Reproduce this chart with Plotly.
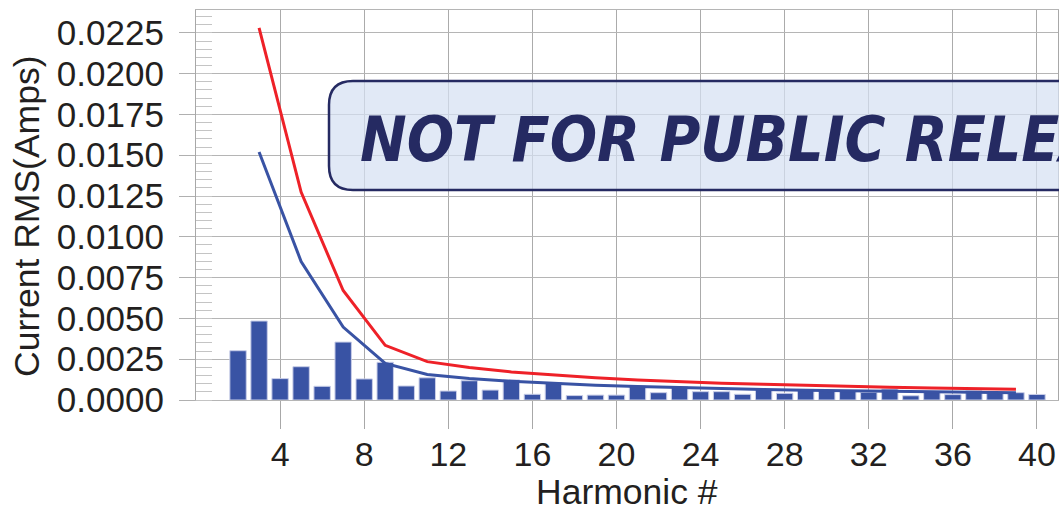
import plotly.graph_objects as go

# ---- data ----
harmonics = list(range(2, 41))
measured = [0.00302, 0.00484, 0.00131, 0.00204, 0.00084, 0.00355, 0.00129, 0.00231,
            0.00086, 0.00136, 0.00055, 0.00118, 0.00061, 0.00123, 0.00035, 0.00106,
            0.00027, 0.00030, 0.00030, 0.00086, 0.00045, 0.00082, 0.00051, 0.00051,
            0.00035, 0.00065, 0.00041, 0.00065, 0.00061, 0.00057, 0.00047, 0.00067,
            0.00026, 0.00051, 0.00033, 0.00056, 0.00045, 0.00045, 0.00034]

odd_harmonics = [3, 5, 7, 9, 11, 13, 15, 17, 19, 21, 23, 25, 27, 29, 31, 33, 35, 37, 39]
limit_red = [0.0228, 0.01274, 0.00671, 0.00335, 0.00235, 0.00199, 0.00172, 0.00152,
             0.00136, 0.00123, 0.00112, 0.00103, 0.00096, 0.00089, 0.00083, 0.00078,
             0.00074, 0.00070, 0.00066]
limit_blue = [0.0152, 0.00849, 0.00447, 0.00224, 0.00156, 0.00132, 0.00115, 0.00101,
              0.00091, 0.00082, 0.00075, 0.00069, 0.00064, 0.00059, 0.00056, 0.00052,
              0.00049, 0.00047, 0.00044]

x_ticks = [4, 8, 12, 16, 20, 24, 28, 32, 36, 40]
y_ticks = [0.0, 0.0025, 0.005, 0.0075, 0.01, 0.0125, 0.015, 0.0175, 0.02, 0.0225]
y_tick_text = ["0.0000", "0.0025", "0.0050", "0.0075", "0.0100", "0.0125",
               "0.0150", "0.0175", "0.0200", "0.0225"]

x_title = "Harmonic #"
y_title = "Current RMS(Amps)"
watermark = "NOT FOR PUBLIC RELEASE"

BLUE = "#3953A4"
RED = "#EE2128"
NAVY = "#252A62"
FONT = "Liberation Sans, Arial, sans-serif"

fig = go.Figure()
fig.add_trace(go.Bar(x=harmonics, y=measured, width=0.78,
                     marker=dict(color=BLUE, line=dict(color="#C9CEE8", width=1)),
                     showlegend=False))
fig.add_trace(go.Scatter(x=odd_harmonics, y=limit_blue, mode="lines",
                         line=dict(color=BLUE, width=3), showlegend=False))
fig.add_trace(go.Scatter(x=odd_harmonics, y=limit_red, mode="lines",
                         line=dict(color=RED, width=3), showlegend=False))

L, R, T, B = 196, 1, 10, 108
W, H = 1059, 508
pw, ph = W - L - R, H - T - B

def px_x(p):
    return (p - L) / pw

def px_y(p):
    return (H - B - p) / ph

fig.update_layout(
    width=W, height=H,
    margin=dict(l=L, r=R, t=T, b=B, pad=0),
    paper_bgcolor="white", plot_bgcolor="white",
    font=dict(family=FONT, size=34, color="#231F20"),
    bargap=0.2,
    xaxis=dict(range=[0, 41], tickvals=x_ticks, ticks="outside", ticklen=28,
               tickcolor="#A8A8A8", tickwidth=1.3, showgrid=True, gridcolor="#ABABAB",
               gridwidth=1.3, showline=True, linecolor="#B5B5B5", linewidth=1.2,
               mirror=True, zeroline=False, automargin=False,
               tickfont=dict(size=34), ticklabelstandoff=-4),
    yaxis=dict(range=[0, 0.0239], tickvals=y_ticks, ticktext=y_tick_text,
               ticks="outside", ticklen=16, tickcolor="#B0B0B0", tickwidth=1,
               showgrid=True, gridcolor="#B5B5B5", gridwidth=1, showline=True,
               linecolor="#A8A8A8", linewidth=1.2, mirror=True, zeroline=False,
               automargin=False, tickfont=dict(size=35), ticklabelstandoff=8,
               minor=dict(dtick=0.0005, ticks="inside", ticklen=16,
                          tickcolor="#C4C4C4", tickwidth=1, showgrid=False)),
)

# axis titles
fig.add_annotation(text=y_title, xref="paper", yref="paper", x=px_x(27), y=px_y(216),
                   textangle=-90, showarrow=False, xanchor="center", yanchor="middle",
                   font=dict(size=35.5, family=FONT, color="#231F20"))
fig.add_annotation(text=x_title, xref="paper", yref="paper", x=px_x(627), y=px_y(492),
                   showarrow=False, xanchor="center", yanchor="middle",
                   font=dict(size=35.5, family=FONT, color="#231F20"))

# watermark box (rounded rectangle, extends past right edge)
x0, x1, y0, y1, r = px_x(329), px_x(1120), px_y(81), px_y(190), 24
rx, ry = r / pw, r / ph
path = (f"M {x0+rx},{y0} L {x1-rx},{y0} Q {x1},{y0} {x1},{y0-ry} "
        f"L {x1},{y1+ry} Q {x1},{y1} {x1-rx},{y1} L {x0+rx},{y1} "
        f"Q {x0},{y1} {x0},{y1+ry} L {x0},{y0-ry} Q {x0},{y0} {x0+rx},{y0} Z")
fig.add_shape(type="path", path=path, xref="paper", yref="paper", layer="above",
              fillcolor="rgba(214,224,242,0.72)", line=dict(color=NAVY, width=2.5))
fig.add_annotation(text=f"<b><i>{watermark}</i></b>", xref="paper", yref="paper",
                   x=px_x(358), y=px_y(139), xanchor="left", yanchor="middle",
                   showarrow=False,
                   font=dict(size=62, color=NAVY,
                             family="DejaVu Sans Condensed, Liberation Sans, sans-serif"))

fig.write_html("out.html", config={"displayModeBar": False},
               post_script="document.body.style.margin='0';document.body.style.overflow='hidden';")
